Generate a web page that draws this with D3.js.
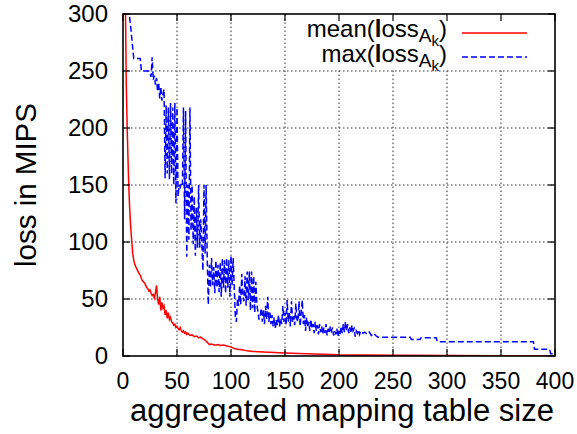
<!DOCTYPE html>
<html><head><meta charset="utf-8">
<script src="https://cdn.jsdelivr.net/npm/d3@7"></script>
<style>
html,body{margin:0;padding:0;background:#fff;}
svg{display:block;font-family:"Liberation Sans",Arial,sans-serif;}
</style></head>
<body><svg id="c" width="577" height="434"></svg>
<script>
const xTicks = [0,50,100,150,200,250,300,350,400];
const yTicks = [0,50,100,150,200,250,300];
const xTitle = "aggregated mapping table size";
const yTitle = "loss in MIPS";

// mean(loss_Ak) : [table size, loss]
const meanX = [1,2,3,4,5,6,7,8,9,10,11,12,13,14,15,16,17,18,19,20,21,22,23,24,25,26,27,28,29,30,31,32,33,34,35,36,37,38,39,40,41,42,43,44,45,46,47,48,49,50,51,52,53,54,55,56,57,58,59,60,62,64,66,68,70,72,74,76,78,80,82,85,88,90,93,96,100,103,106,110,115,120,130,140,150,170,200,250,300,350,400];
const meanY = [450,330,240,195,160,133,115,102,90,84,80,78,76,74,72,71,68,66,65,64,62,60,59,57,58,55,53,54,51,55,62,50,45,52,40,47,42,44,36,40,33,38,32,34,30,29,27,28,25,26,24,23,25,22,21,22,20,21,19,20,18,18.5,17,17.5,16,16.5,15,14,12,10,10.5,9.5,10,9.2,9.6,8.8,8,6.5,6,5.5,4.5,4,3.5,3,2.6,2,1,0.6,0.4,0.3,0.2];

// max(loss_Ak)
const maxX = [1,2,3,4,5,6,7,8,9,10,16,17,24,25,26,27,28,29,30,31,32,33,34,35,36,37,38,39,40,41,42,43,44,45,46,47,48,49,50,51,52,53,54,55,56,57,58,59,60,61,62,63,64,65,66,67,68,69,70,71,72,73,74,75,76,77,78,79,80,81,82,83,84,85,86,87,88,89,90,91,92,93,94,95,96,97,98,99,100,101,102,103,104,105,106,107,108,109,110,111,112,113,114,115,116,117,118,119,120,121,122,123,124,125,126,127,128,129,130,131,132,133,134,135,136,137,138,139,140,141,142,143,144,145,146,147,148,149,150,151,152,153,154,155,156,157,158,159,160,161,162,163,164,165,166,167,168,169,170,171,172,173,174,175,176,177,178,179,180,181,182,183,184,185,186,187,188,189,190,191,192,193,194,195,196,197,198,199,200,201,202,203,204,205,206,207,208,209,210,211,212,213,214,215,216,217,218,219,220,222,224,226,228,230,232,234,236,266,267,275,276,290,291,380,381,395,396,400];
const maxY = [400,380,350,330,310,298,290,280,270,261,261,250,250,248,245,262,242,246,238,244,232,240,226,236,224,230,234,156,220,160,218,155,222,160,218,150,222,134,218,140,150,148,152,150,218,120,215,87,150,102,218,110,150,98,140,88,130,95,150,95,120,98,75,150,90,150,85,45,80,60,86,62,78,55,84,60,80,56,82,52,86,60,84,55,86,60,84,52,88,62,86,60,35,30,50,44,62,45,72,52,48,70,44,74,49,74,40,74,42,70,38,65,45,38,32,35,42,30,40,28,44,32,52,30,38,28,36,26,34,24,32,27,36,26,33,28,44,30,38,27,49,30,38,26,48,30,35,27,46,32,30,48,26,38,49,28,36,22,34,25,30,22,32,24,28,20,30,22,27,19,28,21,26,19,25,20,28,18,24,20,26,22,25,18,22,19,24,17,22,19,26,20,28,21,30,22,28,20,25,20,27,22,24,17,22,20,23,19,22,20,21,19,21,18,20,18,16.5,16.5,14.5,14.5,16,16,12.6,12.6,6,6,2,2];

const W = 577, H = 434;
const L = 123, R = 555, T = 14, B = 356;
const svg = d3.select("#c");
const x = d3.scaleLinear().domain([0,400]).range([L,R]);
const y = d3.scaleLinear().domain([0,300]).range([B,T]);

// grid
const g = svg.append("g");
g.selectAll("line.gx").data(xTicks.slice(1,-1)).enter().append("line")
  .attr("x1",d=>x(d)).attr("x2",d=>x(d)).attr("y1",B).attr("y2",T)
  .attr("stroke","#333").attr("stroke-width",1).attr("stroke-dasharray","1.5,2.5");
g.selectAll("line.gy").data(yTicks.slice(1,-1)).enter().append("line")
  .attr("y1",d=>y(d)).attr("y2",d=>y(d)).attr("x1",L).attr("x2",R)
  .attr("stroke","#333").attr("stroke-width",1).attr("stroke-dasharray","1.5,2.5");

// legend background (opaque key)
svg.append("rect").attr("x",300).attr("y",T).attr("width",R-300).attr("height",55).attr("fill","#fff");

// clip
svg.append("clipPath").attr("id","clip").append("rect").attr("x",L).attr("y",T).attr("width",R-L).attr("height",B-T);

const line = d3.line().x(d=>x(d[0])).y(d=>y(d[1]));
const meanData = meanX.map((v,i)=>[v,meanY[i]]);
const maxData = maxX.map((v,i)=>[v,maxY[i]]);

svg.append("path").datum(maxData).attr("d",line).attr("clip-path","url(#clip)")
  .attr("fill","none").attr("stroke","#0000ff").attr("stroke-width",1.5).attr("stroke-dasharray","6,3");
svg.append("path").datum(meanData).attr("d",line).attr("clip-path","url(#clip)")
  .attr("fill","none").attr("stroke","#ff0000").attr("stroke-width",1.5);

// ticks (inside, mirrored)
const tk = 7;
const t = svg.append("g").attr("stroke","#000").attr("stroke-width",1.2);
xTicks.forEach(d=>{
  t.append("line").attr("x1",x(d)).attr("x2",x(d)).attr("y1",B).attr("y2",B-tk);
  t.append("line").attr("x1",x(d)).attr("x2",x(d)).attr("y1",T).attr("y2",T+tk);
});
yTicks.forEach(d=>{
  t.append("line").attr("y1",y(d)).attr("y2",y(d)).attr("x1",L).attr("x2",L+tk);
  t.append("line").attr("y1",y(d)).attr("y2",y(d)).attr("x1",R).attr("x2",R-tk);
});
svg.append("rect").attr("x",L).attr("y",T).attr("width",R-L).attr("height",B-T)
  .attr("fill","none").attr("stroke","#000").attr("stroke-width",1.6);

// tick labels
svg.selectAll("text.xl").data(xTicks).enter().append("text")
  .attr("x",d=>x(d)).attr("y",389).attr("text-anchor","middle")
  .attr("font-size",23).text(d=>d);
svg.selectAll("text.yl").data(yTicks).enter().append("text")
  .attr("x",108).attr("y",d=>y(d)+8).attr("text-anchor","end")
  .attr("font-size",24).text(d=>d);

// titles
svg.append("text").attr("x",342).attr("y",421).attr("text-anchor","middle")
  .attr("font-size",31).text(xTitle);
svg.append("text").attr("transform","translate(36,"+((T+B)/2)+") rotate(-90)")
  .attr("text-anchor","middle").attr("font-size",29.5).text(yTitle);

// legend
function legendText(yy, fn){
  const tx = svg.append("text").attr("x",447).attr("y",yy).attr("text-anchor","end").attr("font-size",24);
  tx.append("tspan").text(fn+"(");
  tx.append("tspan").attr("font-weight","bold").text("l");
  tx.append("tspan").text("oss");
  tx.append("tspan").attr("dy",5).attr("font-size",19).text("A");
  tx.append("tspan").attr("dy",4).attr("font-size",15).text("k");
  tx.append("tspan").attr("dy",-9).text(")");
}
legendText(37,"mean");
legendText(62,"max");
svg.append("line").attr("x1",462).attr("x2",527).attr("y1",33).attr("y2",33).attr("stroke","#ff0000").attr("stroke-width",1.5);
svg.append("line").attr("x1",462).attr("x2",527).attr("y1",57).attr("y2",57).attr("stroke","#0000ff").attr("stroke-width",1.5).attr("stroke-dasharray","6,3");
</script></body></html>
